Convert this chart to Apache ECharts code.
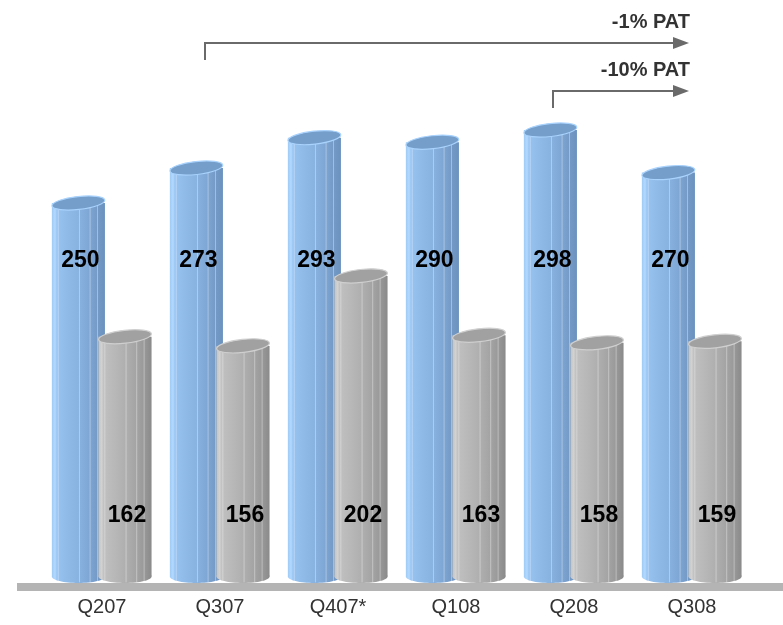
<!DOCTYPE html>
<html>
<head>
<meta charset="utf-8">
<script src="https://cdn.jsdelivr.net/npm/echarts@6/dist/echarts.min.js"></script>
<style>
  html, body { margin: 0; padding: 0; background: #ffffff; }
  #chart { width: 783px; height: 625px; }
</style>
</head>
<body>
<div id="chart"></div>
<script>
// Quarterly figures: revenue (blue cylinders) and PAT (grey cylinders)
const categories = ['Q207', 'Q307', 'Q407*', 'Q108', 'Q208', 'Q308'];
const revenue = [250, 273, 293, 290, 298, 270];
const pat = [162, 156, 202, 163, 158, 159];

// Value levels (axis units) at which the in-bar numbers are printed
const revenueLabelLevel = 212;
const patLabelLevel = 44;

const FONT = '"Liberation Sans", Arial, sans-serif';

const palettes = {
  blue: {
    stops: [
      [0.00, '#9fcbf7'], [0.06, '#b3d9fd'], [0.10, '#97c3f1'], [0.30, '#8fbae8'],
      [0.50, '#88b2e0'], [0.66, '#81a9d7'], [0.80, '#789fcc'], [1.00, '#6b92bd']
    ],
    lines: [0.12, 0.52, 0.72, 0.86],
    top: '#759ecb',
    rim: '#a9d2fc'
  },
  grey: {
    stops: [
      [0.00, '#c3c3c3'], [0.06, '#d2d2d2'], [0.10, '#c0c0c0'], [0.35, '#b6b6b6'],
      [0.55, '#adadad'], [0.72, '#a3a3a3'], [0.86, '#999999'], [1.00, '#8a8a8a']
    ],
    lines: [0.12, 0.52, 0.72, 0.86],
    top: '#a1a1a1',
    rim: '#cfcfcf'
  }
};

function gradient(stops) {
  return new echarts.graphic.LinearGradient(0, 0, 1, 0,
    stops.map(s => ({ offset: s[0], color: s[1] })));
}

// Builds a cylinder renderer; shift is the offset of the bar centre
// from the category centre as a fraction of the category band.
function cylinder(pal, shift, labelLevel) {
  return function (params, api) {
    const idx = api.value(0);
    const val = api.value(1);
    const band = api.size([1, 0])[0];
    const w = band * 0.45;
    const rx = w / 2;
    const ry = 6.5;
    const base = api.coord([idx, 0]);
    const top = api.coord([idx, val]);
    const cx = base[0] + band * shift;
    const x0 = cx - rx;
    const yTop = top[1];
    const yBot = base[1] - ry;
    const fill = gradient(pal.stops);
    const children = [
      { type: 'ellipse', shape: { cx: cx, cy: yBot, rx: rx, ry: ry }, style: { fill: fill } },
      { type: 'rect', shape: { x: x0, y: yTop, width: w, height: yBot - yTop }, style: { fill: fill } }
    ];
    pal.lines.forEach(f => {
      children.push({
        type: 'line',
        shape: { x1: x0 + w * f, y1: yTop, x2: x0 + w * f, y2: yBot + ry * 0.9 },
        style: { stroke: 'rgba(255,255,255,0.35)', lineWidth: 1 }
      });
    });
    children.push({
      type: 'ellipse',
      shape: { cx: cx, cy: yTop, rx: rx, ry: ry },
      rotation: 0.11,
      originX: cx, originY: yTop,
      style: { fill: pal.top, stroke: pal.rim, lineWidth: 1.2 }
    });
    const lp = api.coord([idx, labelLevel]);
    children.push({
      type: 'text',
      x: cx + 2, y: lp[1],
      style: {
        text: String(val), fill: '#000', font: 'bold 23px ' + FONT,
        align: 'center', verticalAlign: 'middle'
      }
    });
    return { type: 'group', children: children };
  };
}

const chart = echarts.init(document.getElementById('chart'), null, { renderer: 'canvas' });

chart.setOption({
  animation: false,
  backgroundColor: '#ffffff',
  grid: { left: 43, right: 32, top: 51, bottom: 42 },
  xAxis: {
    type: 'category',
    data: categories,
    axisLine: { show: false },
    axisTick: { show: false },
    axisLabel: { color: '#333333', fontSize: 20, fontFamily: FONT, margin: 14 }
  },
  yAxis: { type: 'value', min: 0, max: 350, show: false, splitLine: { show: false } },
  graphic: [
    // floor
    { type: 'rect', z: 0, shape: { x: 17, y: 583, width: 766, height: 8 }, style: { fill: '#b4b4b4' } },
    // -1% PAT arrow
    { type: 'polyline', z: 10, shape: { points: [[205, 60], [205, 43], [676, 43]] },
      style: { stroke: '#6a6a6a', lineWidth: 2, fill: null } },
    { type: 'polygon', z: 10, shape: { points: [[673, 37], [689, 43], [673, 49]] }, style: { fill: '#6a6a6a' } },
    { type: 'text', z: 10, x: 690, y: 22,
      style: { text: '-1% PAT', font: 'bold 20px ' + FONT, fill: '#333333', align: 'right', verticalAlign: 'middle' } },
    // -10% PAT arrow
    { type: 'polyline', z: 10, shape: { points: [[553, 108], [553, 91], [676, 91]] },
      style: { stroke: '#6a6a6a', lineWidth: 2, fill: null } },
    { type: 'polygon', z: 10, shape: { points: [[673, 85], [689, 91], [673, 97]] }, style: { fill: '#6a6a6a' } },
    { type: 'text', z: 10, x: 690, y: 70,
      style: { text: '-10% PAT', font: 'bold 20px ' + FONT, fill: '#333333', align: 'right', verticalAlign: 'middle' } }
  ],
  series: [
    {
      type: 'custom', name: 'Revenue',
      renderItem: cylinder(palettes.blue, -0.2, revenueLabelLevel),
      encode: { x: 0, y: 1 },
      data: revenue.map((v, i) => [i, v])
    },
    {
      type: 'custom', name: 'PAT',
      renderItem: cylinder(palettes.grey, 0.195, patLabelLevel),
      encode: { x: 0, y: 1 },
      data: pat.map((v, i) => [i, v])
    }
  ]
});
</script>
</body>
</html>
